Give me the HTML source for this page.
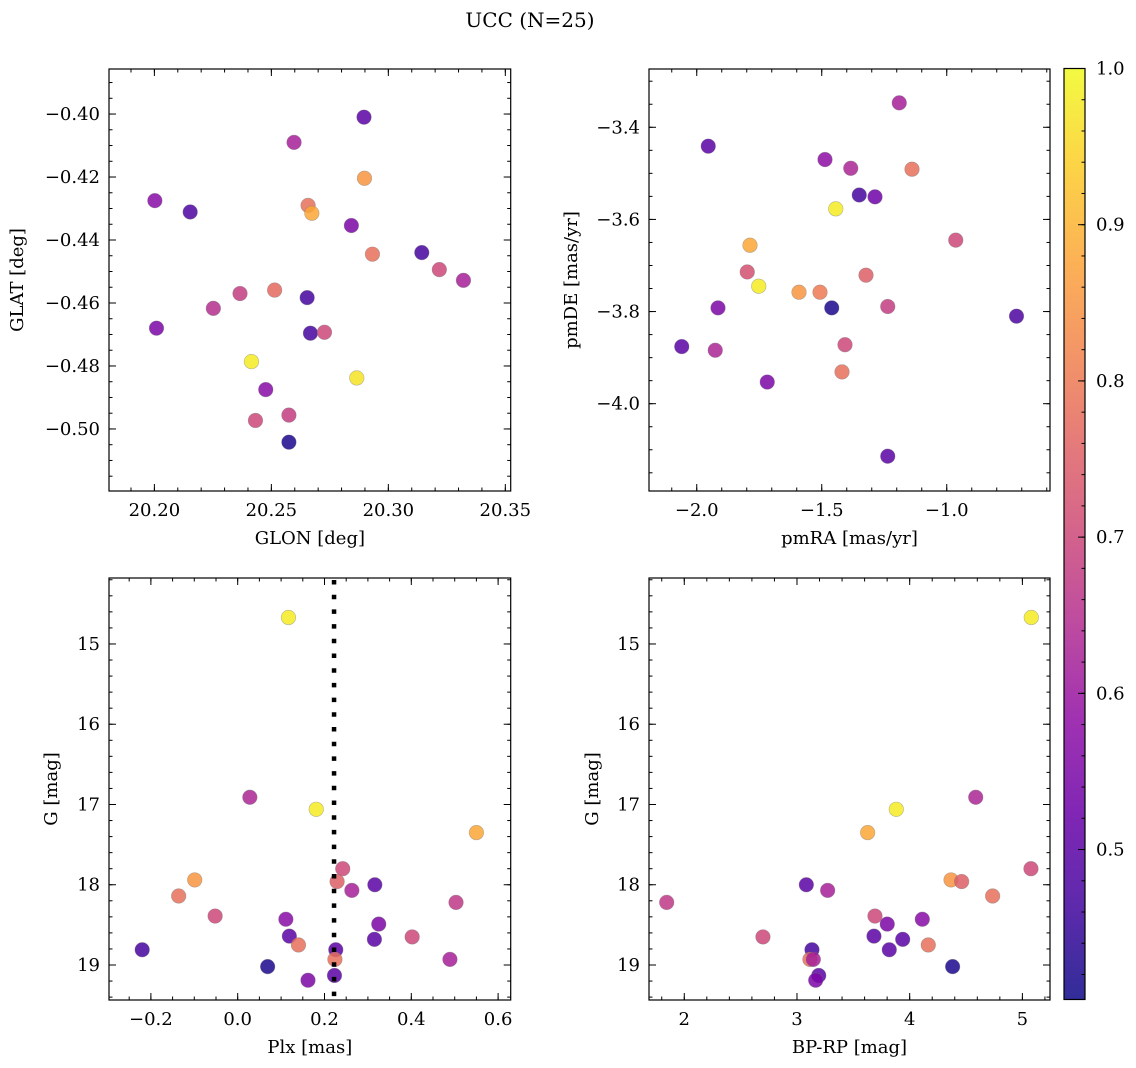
<!DOCTYPE html>
<html><head><meta charset="utf-8">
<style>
html,body{margin:0;padding:0;background:#fff;}
svg{display:block;font-family:"DejaVu Serif","Liberation Serif",serif;}
</style></head>
<body>
<svg id="fig" width="1136" height="1068" viewBox="0 0 1136 1068" xmlns="http://www.w3.org/2000/svg">
<defs>
<linearGradient id="cbgrad" x1="0" y1="1" x2="0" y2="0">
</linearGradient>
</defs>
<text x="530" y="27" font-size="20" text-anchor="middle">UCC (N=25)</text>
</svg>
<script>
// Panel 1: GLON vs GLAT
const glon = [20.2896,20.2597,20.2898,20.2002,20.2153,20.2657,20.2673,20.2842,20.2932,20.3143,20.3218,20.3321,20.2252,20.2366,20.2514,20.2653,20.2009,20.2667,20.2727,20.2415,20.2865,20.2476,20.2432,20.2575,20.2575];
const glat = [-0.4010,-0.4090,-0.4204,-0.4275,-0.4311,-0.4290,-0.4315,-0.4354,-0.4445,-0.4440,-0.4494,-0.4528,-0.4617,-0.4570,-0.4559,-0.4583,-0.4680,-0.4696,-0.4693,-0.4786,-0.4838,-0.4875,-0.4973,-0.4956,-0.5042];
const prob1 = [0.50,0.62,0.85,0.57,0.48,0.78,0.88,0.55,0.78,0.47,0.70,0.62,0.65,0.68,0.77,0.47,0.55,0.47,0.70,0.98,0.97,0.57,0.70,0.68,0.42];
// Panel 2: pmRA vs pmDE
const pmra = [-1.190,-1.954,-1.487,-1.384,-1.139,-1.350,-1.287,-1.444,-1.787,-0.964,-1.798,-1.752,-1.323,-1.591,-1.507,-1.460,-1.915,-1.236,-0.721,-2.060,-1.926,-1.407,-1.419,-1.718,-1.236];
const pmde = [-3.347,-3.441,-3.470,-3.489,-3.491,-3.547,-3.551,-3.577,-3.656,-3.645,-3.714,-3.745,-3.721,-3.758,-3.758,-3.792,-3.792,-3.789,-3.810,-3.876,-3.884,-3.872,-3.931,-3.953,-4.114];
const prob2 = [0.62,0.50,0.58,0.63,0.78,0.47,0.53,0.98,0.88,0.70,0.72,0.98,0.75,0.85,0.80,0.42,0.55,0.68,0.48,0.50,0.63,0.70,0.78,0.55,0.50];
// Panels 3-4: Plx / BP-RP vs G
const plx = [0.117,0.028,0.181,0.550,0.242,-0.099,0.229,0.316,0.263,-0.136,0.503,-0.052,0.111,0.325,0.119,0.402,0.315,0.140,-0.220,0.226,0.224,0.489,0.069,0.223,0.162];
const gmag = [14.67,16.91,17.06,17.35,17.80,17.94,17.96,18.00,18.07,18.14,18.22,18.39,18.43,18.49,18.64,18.65,18.68,18.75,18.81,18.81,18.93,18.93,19.02,19.13,19.19];
const prob3 = [0.98,0.63,0.98,0.88,0.70,0.85,0.75,0.50,0.62,0.78,0.67,0.70,0.57,0.55,0.50,0.70,0.50,0.78,0.47,0.50,0.78,0.62,0.42,0.50,0.55];
const bprp = [5.079,4.586,3.881,3.627,5.076,4.367,4.461,3.083,3.272,4.736,1.844,3.692,4.112,3.801,3.683,2.698,3.938,4.165,3.133,3.819,3.115,3.145,4.381,3.193,3.166];
const gmag4 = [14.67,16.91,17.06,17.35,17.80,17.94,17.96,18.00,18.07,18.14,18.22,18.39,18.43,18.49,18.64,18.65,18.68,18.75,18.81,18.81,18.93,18.93,19.02,19.13,19.19];
const prob4 = [0.98,0.63,0.98,0.88,0.70,0.85,0.75,0.50,0.62,0.78,0.67,0.70,0.57,0.55,0.50,0.70,0.50,0.78,0.47,0.50,0.78,0.62,0.42,0.50,0.55];
const plxCut = [0.222];
const cbTicks = [0.5,0.6,0.7,0.8,0.9,1.0];
const vmin = 0.404, vmax = 1.0;

const NS = "http://www.w3.org/2000/svg";
const svg = document.getElementById('fig');
function mk(tag, attrs, parent){const e=document.createElementNS(NS,tag);for(const k in attrs)e.setAttribute(k,attrs[k]);(parent||svg).appendChild(e);return e;}
const plasma=[[13,8,135],[65,4,157],[106,0,168],[143,13,164],[177,42,144],[204,71,120],[225,100,98],[242,132,75],[252,166,54],[252,206,37],[240,249,33]];
function cmap(t){t=Math.max(0,Math.min(1,t));const s=t*10;const i=Math.min(9,Math.floor(s));const f=s-i;const a=plasma[i],b=plasma[i+1];
 return `rgb(${Math.round(a[0]+(b[0]-a[0])*f)},${Math.round(a[1]+(b[1]-a[1])*f)},${Math.round(a[2]+(b[2]-a[2])*f)})`;}
function cnorm(v){return (v-vmin)/(vmax-vmin);}
function fmt(v,d){const s=Math.abs(v).toFixed(d);return (v< -1e-9?'\u2212':'')+s;}
const FS=18;

function panel(o){
 const g=mk('g',{});
 
 
 const {x0,x1,y0,y1}=o;
 const sx=v=>x0+(v-o.xmin)/(o.xmax-o.xmin)*(x1-x0);
 const sy=v=>o.yinv? y0+(v-o.ymin)/(o.ymax-o.ymin)*(y1-y0) : y1-(v-o.ymin)/(o.ymax-o.ymin)*(y1-y0);
 function ticksX(step,len,label){const st=Math.ceil(o.xmin/step-1e-6);for(let k=st;k*step<=o.xmax+1e-9;k++){const v=k*step;const x=sx(v);
   const t1=mk('line',{x1:x,x2:x,y1:y1,y2:y1-len,stroke:'#000','stroke-width':1},g);
   
   mk('line',{x1:x,x2:x,y1:y0,y2:y0+len,stroke:'#000','stroke-width':1},g);
   if(label){const t=mk('text',{x:x,y:y1+25,'font-size':FS,'text-anchor':'middle'},g);t.textContent=fmt(v,o.xd);
     }}}
 function ticksY(step,len,label){const lo=Math.min(o.ymin,o.ymax),hi=Math.max(o.ymin,o.ymax);const st=Math.ceil(lo/step-1e-6);for(let k=st;k*step<=hi+1e-9;k++){const v=k*step;const y=sy(v);
   const t1=mk('line',{x1:x0,x2:x0+len,y1:y,y2:y,stroke:'#000','stroke-width':1},g);
   
   mk('line',{x1:x1,x2:x1-len,y1:y,y2:y,stroke:'#000','stroke-width':1},g);
   if(label){const t=mk('text',{x:x0-9,y:y+6,'font-size':FS,'text-anchor':'end'},g);t.textContent=fmt(v,o.yd);
     }}}
 ticksX(o.xminor,3.5,false);ticksX(o.xmajor,7,true);
 ticksY(o.yminor,3.5,false);ticksY(o.ymajor,7,true);
 for(let i=0;i<o.xs.length;i++){
   const c=mk('circle',{cx:sx(o.xs[i]),cy:sy(o.ys[i]),r:7.3,fill:cmap(cnorm(o.cs[i])),'fill-opacity':0.85,stroke:'#777','stroke-opacity':0.5,'stroke-width':0.6},g);
   
   
 }
 if(o.vline){for(const v of o.vline){const l=mk('line',{x1:sx(v),x2:sx(v),y1:y0+2,y2:y1,stroke:'#000','stroke-width':4.5,'stroke-dasharray':'4.5 10.2'},g);
   }}
 const fr=mk('rect',{x:x0,y:y0,width:x1-x0,height:y1-y0,fill:'none',stroke:'#000','stroke-width':1.2},g);
 
 const xl=mk('text',{x:(x0+x1)/2,y:y1+53,'font-size':FS,'text-anchor':'middle'},g);xl.textContent=o.xlabel;
 
 const yl=mk('text',{x:o.ylx,y:(y0+y1)/2,'font-size':FS,'text-anchor':'middle',transform:`rotate(-90 ${o.ylx} ${(y0+y1)/2})`},g);yl.textContent=o.ylabel;
 
}

panel({name:'glon-glat-panel',x0:109,x1:510.7,y0:69,y1:491,xmin:20.1806,xmax:20.3523,ymin:-0.5197,ymax:-0.3857,
 xmajor:0.05,xminor:0.01,ymajor:0.02,yminor:0.005,xd:2,yd:2,xs:glon,ys:glat,cs:prob1,xlabel:'GLON [deg]',ylabel:'GLAT [deg]',ylx:23});
panel({name:'pm-panel',x0:649,x1:1050,y0:69,y1:491,xmin:-2.191,xmax:-0.587,ymin:-4.1895,ymax:-3.2735,
 xmajor:0.5,xminor:0.1,ymajor:0.2,yminor:0.05,xd:1,yd:1,xs:pmra,ys:pmde,cs:prob2,xlabel:'pmRA [mas/yr]',ylabel:'pmDE [mas/yr]',ylx:577});
panel({name:'plx-g-panel',x0:109,x1:510.7,y0:578,y1:1000,xmin:-0.2965,xmax:0.629,ymin:14.178,ymax:19.436,yinv:true,
 xmajor:0.2,xminor:0.05,ymajor:1,yminor:0.2,xd:1,yd:0,xs:plx,ys:gmag,cs:prob3,xlabel:'Plx [mas]',ylabel:'G [mag]',ylx:57,vline:plxCut});
panel({name:'cmd-panel',x0:649,x1:1050,y0:578,y1:1000,xmin:1.687,xmax:5.245,ymin:14.178,ymax:19.436,yinv:true,
 xmajor:1,xminor:0.2,ymajor:1,yminor:0.2,xd:0,yd:0,xs:bprp,ys:gmag4,cs:prob4,xlabel:'BP-RP [mag]',ylabel:'G [mag]',ylx:598});

const grad=document.getElementById('cbgrad');
for(let k=0;k<=20;k++){const t=k/20;const v=vmin+t*(vmax-vmin);mk('stop',{offset:t,'stop-color':cmap(cnorm(v)),'stop-opacity':0.85},grad);}
const cx0=1064,cx1=1085,cy0=68.5,cy1=999.5;
const cby=v=>cy1-(v-vmin)/(vmax-vmin)*(cy1-cy0);
const cb=mk('rect',{x:cx0,y:cy0,width:cx1-cx0,height:cy1-cy0,fill:'url(#cbgrad)',stroke:'#000','stroke-width':1.2});


for(let k=21;k<=50;k++){const v=k*0.02;if(v>vmax+1e-9)break;mk('line',{x1:cx1,x2:cx1-3.5,y1:cby(v),y2:cby(v),stroke:'#000','stroke-width':1});}
for(const v of cbTicks){const y=cby(v);mk('line',{x1:cx1,x2:cx1-7,y1:y,y2:y,stroke:'#000','stroke-width':1});
 const t=mk('text',{x:1096,y:y+6,'font-size':FS},svg);t.textContent=v.toFixed(1);
 
 }
</script>
</body></html>
